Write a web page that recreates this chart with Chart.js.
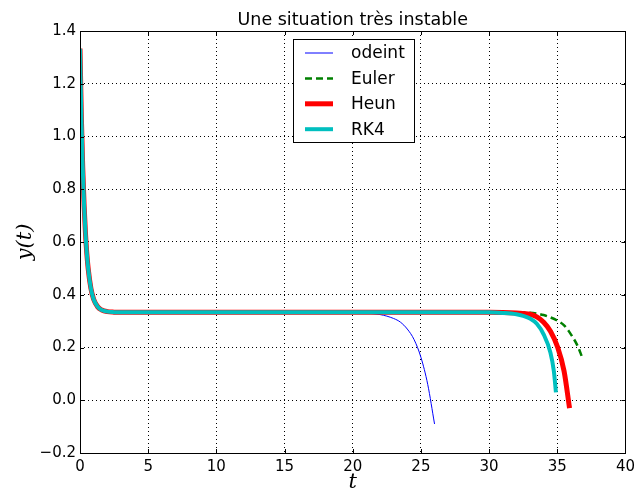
<!DOCTYPE html>
<html>
<head>
<meta charset="utf-8">
<script src="https://cdn.jsdelivr.net/npm/chart.js@4.4.1/dist/chart.umd.min.js"></script>
<style>
  html, body { margin: 0; padding: 0; background: #fff; }
  canvas { display: block; }
</style>
</head>
<body>
<canvas id="chart" width="640" height="496"></canvas>
<script>
// --- DATA ---
const seriesNames = ['odeint', 'Euler', 'Heun', 'RK4'];

// fast decay from y(0) ~ 4/3 to the plateau at 1/3, shared by all methods
const startT = [0, 0.1, 0.2, 0.3, 0.4, 0.5, 0.6, 0.8, 1.0, 1.3, 1.6, 2.0, 2.5, 3, 5, 10, 15, 20];
const startY = [1.333, 1.074, 0.882, 0.74, 0.635, 0.556, 0.499, 0.424, 0.383, 0.354, 0.342, 0.336, 0.334, 0.3334, 0.3333, 0.3333, 0.3333, 0.3333];

// where each method leaves the plateau
const odeintT = [21, 22, 23, 23.5, 24, 24.5, 25, 25.5, 26];
const odeintY = [0.330, 0.325, 0.31, 0.296, 0.27, 0.23, 0.163, 0.06, -0.09];

const eulerT = [25, 30, 33, 34, 34.5, 35, 35.5, 36, 36.5, 36.8];
const eulerY = [0.3333, 0.3333, 0.332, 0.323, 0.314, 0.302, 0.284, 0.25, 0.205, 0.166];

const heunT = [25, 30, 31, 32, 33, 33.5, 34, 34.5, 35, 35.5, 35.9];
const heunY = [0.3333, 0.3333, 0.333, 0.331, 0.326, 0.316, 0.296, 0.262, 0.205, 0.11, -0.03];

const rk4T = [25, 30, 31, 32, 32.5, 33, 33.5, 34, 34.5, 34.75, 34.9];
const rk4Y = [0.3333, 0.3333, 0.331, 0.326, 0.32, 0.31, 0.29, 0.25, 0.18, 0.11, 0.03];

const xTicks = [0, 5, 10, 15, 20, 25, 30, 35, 40];
const yTicks = [-0.2, 0, 0.2, 0.4, 0.6, 0.8, 1.0, 1.2, 1.4];

const points = (ts, ys) => ts.map((t, i) => ({ x: t, y: ys[i] }));
const withStart = (ts, ys) => points(startT, startY).concat(points(ts, ys));

// --- STYLES ---
const FONT = "'DejaVu Sans', sans-serif";
const styles = [
    { color: '#0000ff', width: 1, dash: [], order: 4 },
    { color: '#008000', width: 2.5, dash: [7, 4], order: 3 },
    { color: '#ff0000', width: 5, dash: [], order: 2 },
    { color: '#00bfbf', width: 4, dash: [], order: 1 }
];
const seriesData = [
    withStart(odeintT, odeintY),
    withStart(eulerT, eulerY),
    withStart(heunT, heunY),
    withStart(rk4T, rk4Y)
];

// frame, inward ticks, title, axis labels and the boxed legend, matplotlib style
const decorations = {
    id: 'decorations',
    afterDraw(chart) {
        const { ctx, chartArea: a, scales } = chart;
        ctx.save();
        ctx.strokeStyle = '#000';
        ctx.lineWidth = 1;
        ctx.setLineDash([]);
        ctx.beginPath();
        xTicks.forEach(v => {
            const px = Math.round(scales.x.getPixelForValue(v)) + 0.5;
            ctx.moveTo(px, a.bottom); ctx.lineTo(px, a.bottom - 4);
            ctx.moveTo(px, a.top); ctx.lineTo(px, a.top + 4);
        });
        yTicks.forEach(v => {
            const py = Math.round(scales.y.getPixelForValue(v)) + 0.5;
            ctx.moveTo(a.left, py); ctx.lineTo(a.left + 4, py);
            ctx.moveTo(a.right, py); ctx.lineTo(a.right - 4, py);
        });
        ctx.stroke();
        ctx.strokeRect(Math.round(a.left) + 0.5, Math.round(a.top) + 0.5,
            Math.round(a.right - a.left), Math.round(a.bottom - a.top));

        // title
        ctx.fillStyle = '#000';
        ctx.textAlign = 'center';
        ctx.textBaseline = 'alphabetic';
        ctx.font = `17.5px ${FONT}`;
        ctx.fillText('Une situation très instable', (a.left + a.right) / 2, 25);

        // axis labels
        ctx.font = "italic 21px 'DejaVu Serif', serif";
        ctx.fillText('t', (a.left + a.right) / 2, 488);
        ctx.save();
        ctx.translate(31, (a.top + a.bottom) / 2);
        ctx.rotate(-Math.PI / 2);
        ctx.fillText('y(t)', 0, 0);
        ctx.restore();

        // legend
        const bx = 293.5, by = 39.5, bw = 121, bh = 103;
        ctx.fillStyle = '#fff';
        ctx.fillRect(bx, by, bw, bh);
        ctx.strokeStyle = '#000';
        ctx.lineWidth = 1;
        ctx.strokeRect(bx, by, bw, bh);
        ctx.font = `17px ${FONT}`;
        ctx.textAlign = 'left';
        ctx.textBaseline = 'middle';
        chart.data.datasets.forEach((ds, i) => {
            const cy = 53 + i * 25.4;
            ctx.strokeStyle = ds.borderColor;
            ctx.lineWidth = ds.borderWidth;
            ctx.setLineDash(ds.borderDash);
            ctx.beginPath();
            ctx.moveTo(305, cy); ctx.lineTo(333, cy);
            ctx.stroke();
            ctx.setLineDash([]);
            ctx.fillStyle = '#000';
            ctx.fillText(ds.label, 351, cy + 1);
        });
        ctx.restore();
    }
};

new Chart(document.getElementById('chart'), {
    type: 'line',
    data: {
        datasets: seriesNames.map((name, i) => ({
            label: name,
            data: seriesData[i],
            borderColor: styles[i].color,
            backgroundColor: styles[i].color,
            borderWidth: styles[i].width,
            borderDash: styles[i].dash,
            order: styles[i].order,
            pointRadius: 0,
            fill: false,
            cubicInterpolationMode: 'monotone'
        }))
    },
    options: {
        responsive: false,
        animation: false,
        devicePixelRatio: 1,
        layout: { padding: { top: 31, right: 12, left: 0, bottom: 0 } },
        plugins: { legend: { display: false }, title: { display: false }, tooltip: { enabled: false } },
        scales: {
            x: {
                type: 'linear', min: 0, max: 40,
                afterFit: s => { s.height = 43; },
                afterBuildTicks: s => { s.ticks = xTicks.map(v => ({ value: v })); },
                grid: { color: '#000', lineWidth: 1, drawTicks: false },
                border: { display: false, dash: [1, 3] },
                ticks: { color: '#000', font: { family: FONT, size: 15 }, padding: 5, maxRotation: 0, autoSkip: false,
                    callback: v => String(v) }
            },
            y: {
                type: 'linear', min: -0.2, max: 1.4,
                afterFit: s => { s.width = 80; },
                afterBuildTicks: s => { s.ticks = yTicks.map(v => ({ value: v })); },
                grid: { color: '#000', lineWidth: 1, drawTicks: false },
                border: { display: false, dash: [1, 3] },
                ticks: { color: '#000', font: { family: FONT, size: 15 }, padding: 4, autoSkip: false,
                    callback: v => (v < 0 ? '\u2212' : '') + Math.abs(v).toFixed(1) }
            }
        }
    },
    plugins: [decorations]
});
</script>
</body>
</html>
